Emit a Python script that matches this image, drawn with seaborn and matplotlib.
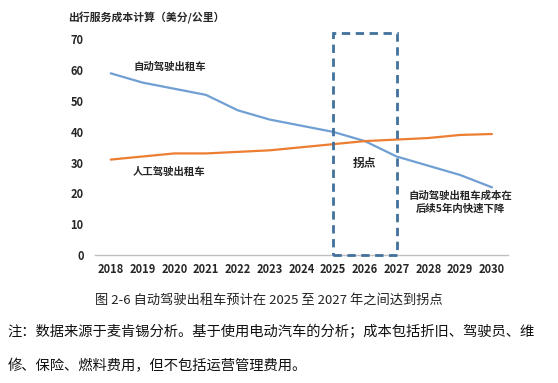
import matplotlib
matplotlib.use("Agg")
import matplotlib.pyplot as plt
from matplotlib.patches import Rectangle
import pandas as pd
import seaborn as sns

years = ["2018", "2019", "2020", "2021", "2022", "2023", "2024",
         "2025", "2026", "2027", "2028", "2029", "2030"]
robotaxi_cost = [59, 56, 54, 52, 47, 44, 42, 40, 37, 32, 29, 26, 22]
human_taxi_cost = [31, 32, 33, 33, 33.5, 34, 35, 36, 37, 37.5, 38, 39, 39.3]
y_ticks = [0, 10, 20, 30, 40, 50, 60, 70]

sns.set_style("white")
plt.rcParams["font.family"] = ["Noto Sans CJK SC", "DejaVu Sans"]

df = pd.DataFrame({
    "year": list(range(len(years))) * 2,
    "cost": robotaxi_cost + human_taxi_cost,
    "series": ["自动驾驶出租车"] * len(years) + ["人工驾驶出租车"] * len(years),
})

fig = plt.figure(figsize=(5.58, 3.83), dpi=100)
ax = fig.add_axes([0.170, 0.334, 0.740, 0.563])

sns.lineplot(data=df, x="year", y="cost", hue="series",
             palette={"自动驾驶出租车": "#6f9fd3", "人工驾驶出租车": "#ed7d31"},
             linewidth=1.6, legend=False, ax=ax)

ax.set_xlim(-0.5, len(years) - 0.5)
ax.set_ylim(0, 70)
ax.set_xticks(range(len(years)))
ax.set_xticklabels(years, fontsize=8, fontweight="bold")
ax.set_yticks(y_ticks)
ax.set_yticklabels([str(t) for t in y_ticks], fontsize=8, fontweight="bold")
ax.tick_params(axis="both", length=0)
ax.tick_params(axis="y", pad=8)
ax.tick_params(axis="x", pad=6)
ax.set_xlabel("")
ax.set_ylabel("")
for side in ["top", "right", "left"]:
    ax.spines[side].set_visible(False)
ax.spines["bottom"].set_color("#bfbfbf")
ax.spines["bottom"].set_linewidth(1)

# inflection zone 2025-2027
start = years.index("2025")
end = years.index("2027")
ax.add_patch(Rectangle((start, 0), end - start, 72, fill=False,
                       edgecolor="#41719c", linewidth=2, linestyle=(0, (3, 2)),
                       clip_on=False, zorder=5))

ax.text(1.85, 61.2, "自动驾驶出租车", fontsize=7.5, fontweight="bold",
        ha="center", va="center")
ax.text(1.85, 27.0, "人工驾驶出租车", fontsize=7.5, fontweight="bold",
        ha="center", va="center")
ax.text(8.0, 29.8, "拐点", fontsize=8.5, fontweight="bold",
        ha="center", va="center")
ax.text(11.0, 17.2, "自动驾驶出租车成本在\n后续5年内快速下降", fontsize=7.5,
        fontweight="bold", ha="center", va="center", linespacing=1.3)

fig.text(0.122, 0.953, "出行服务成本计算（美分/公里）", fontsize=7.8,
         fontweight="bold", ha="left", va="center")

fig.text(0.482, 0.216, "图 2-6 自动驾驶出租车预计在 2025 至 2027 年之间达到拐点",
         fontsize=9.5, ha="center", va="center", color="#222222")
fig.text(0.014, 0.133, "注：数据来源于麦肯锡分析。基于使用电动汽车的分析；成本包括折旧、驾驶员、维",
         fontsize=10.3, ha="left", va="center", color="#111111")
fig.text(0.014, 0.044, "修、保险、燃料费用，但不包括运营管理费用。",
         fontsize=10.3, ha="left", va="center", color="#111111")

fig.savefig("out.png", dpi=100)
